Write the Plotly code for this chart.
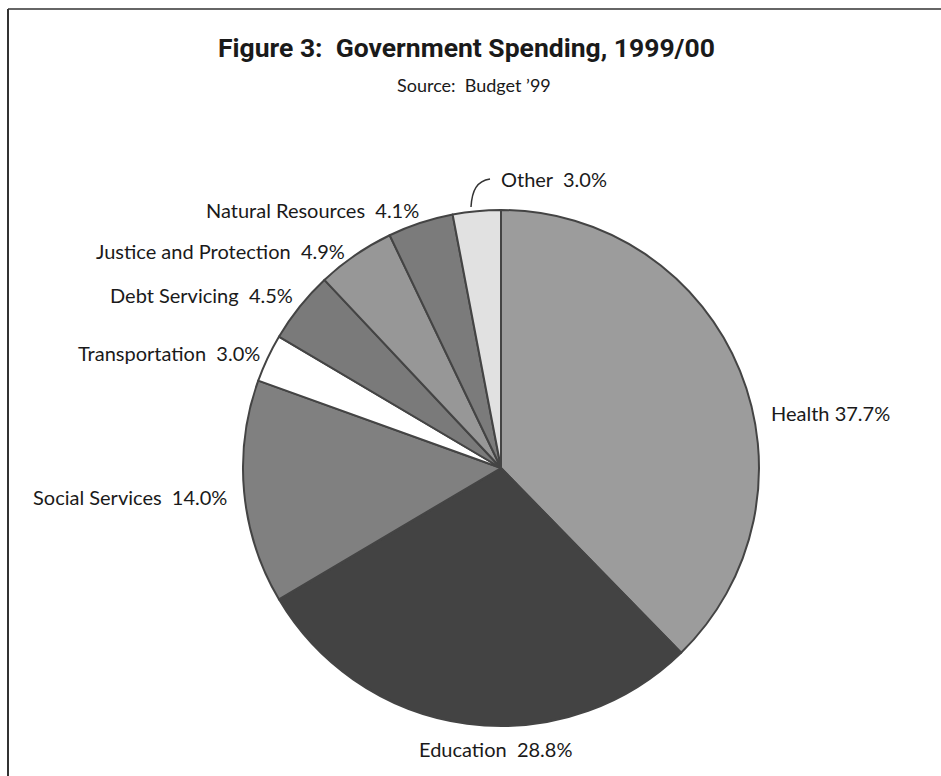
import plotly.graph_objects as go

# Budget shares, clockwise from 12 o'clock
categories = ["Health", "Education", "Social Services", "Transportation",
              "Debt Servicing", "Justice and Protection", "Natural Resources", "Other"]
shares = [37.7, 28.8, 14.0, 3.0, 4.5, 4.9, 4.1, 3.0]
fills = ["#9c9c9c", "#434343", "#808080", "#ffffff",
         "#7a7a7a", "#979797", "#7b7b7b", "#e1e1e1"]

W, H = 941, 776
cx, cy, r = 501, 468, 258

fig = go.Figure()
fig.add_trace(go.Pie(
    labels=categories, values=shares, sort=False, direction="clockwise",
    rotation=0, textinfo="none", hoverinfo="label+percent",
    marker=dict(colors=fills, line=dict(color="#444444", width=2)),
    domain=dict(x=[(cx - r) / W, (cx + r) / W], y=[1 - (cy + r) / H, 1 - (cy - r) / H]),
    showlegend=False,
))

label_font = dict(family="Lato, Open Sans, sans-serif", size=20, color="#1a1a1a")
# label placement: (x, y, anchor)
label_pos = {
    "Health": (769, 413, "left"),
    "Education": (495, 749, "center"),
    "Social Services": (229, 497, "right"),
    "Transportation": (262, 353, "right"),
    "Debt Servicing": (295, 295, "right"),
    "Justice and Protection": (347, 251, "right"),
    "Natural Resources": (421, 210, "right"),
    "Other": (499, 179, "left"),
}
for name, val in zip(categories, shares):
    x, y, anchor = label_pos[name]
    sep = " " if name == "Health" else "  "
    fig.add_annotation(x=x, y=y, xref="x", yref="y", text=f"{name}{sep}{val:.1f}%",
                       showarrow=False, xanchor=anchor, yanchor="middle",
                       font=label_font)

fig.add_annotation(x=466, y=47, xref="x", yref="y",
                   text="<b>Figure 3:  Government Spending, 1999/00</b>",
                   showarrow=False, xanchor="center", yanchor="middle",
                   font=dict(family="Roboto, sans-serif", size=26.5, color="#1a1a1a"))
fig.add_annotation(x=474, y=85, xref="x", yref="y", text="Source:  Budget \u201999",
                   showarrow=False, xanchor="center", yanchor="middle",
                   font=dict(family="Lato, Open Sans, sans-serif", size=18, color="#1a1a1a"))

# leader line for the small "Other" slice
fig.add_shape(type="path", xref="x", yref="y",
              path="M 471 207 C 472 190, 477 181, 490 179",
              line=dict(color="#333333", width=1.5))

# frame lines
fig.add_shape(type="line", xref="x", yref="y", x0=8, y0=9, x1=945, y1=9,
              line=dict(color="#666666", width=2))
fig.add_shape(type="line", xref="x", yref="y", x0=8, y0=9, x1=8, y1=780,
              line=dict(color="#333333", width=2))

fig.update_layout(
    width=W, height=H, margin=dict(l=0, r=0, t=0, b=0),
    paper_bgcolor="white", plot_bgcolor="rgba(0,0,0,0)",
    xaxis=dict(range=[0, W], visible=False, fixedrange=True),
    yaxis=dict(range=[H, 0], visible=False, fixedrange=True),
)
fig.write_html("out.html")
